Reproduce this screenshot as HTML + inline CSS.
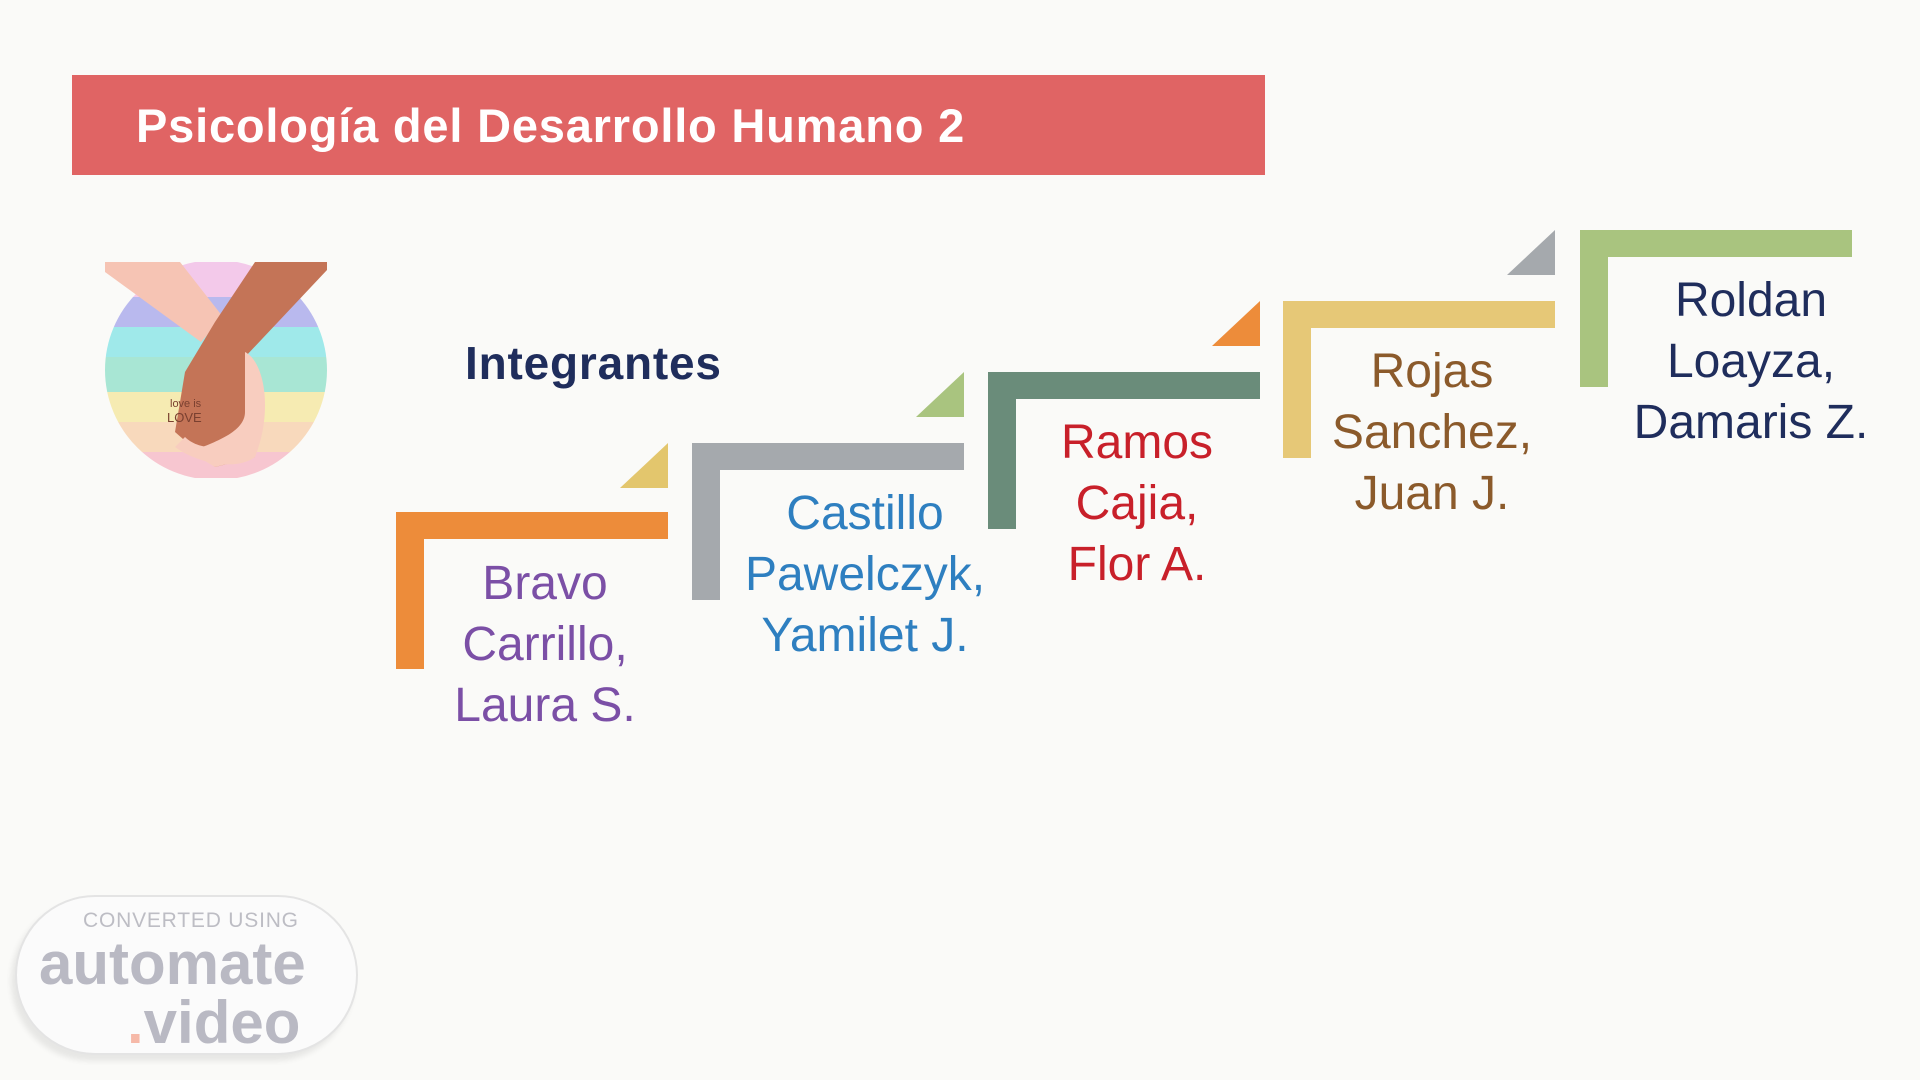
<!DOCTYPE html>
<html><head><meta charset="utf-8"><style>
*{margin:0;padding:0;box-sizing:border-box}
body{width:1920px;height:1080px;background:#fafaf8;position:relative;overflow:hidden;font-family:"Liberation Sans",sans-serif}
.title{position:absolute;left:72px;top:75px;width:1193px;height:100px;background:#e06464}
.title span{position:absolute;left:64px;top:23px;color:#fff;font-weight:bold;font-size:47px;letter-spacing:0.8px}
.integ{position:absolute;left:465px;top:336px;color:#1f2d5c;font-weight:bold;font-size:46px;letter-spacing:0.8px}
.br{position:absolute;width:272px;height:157px}
.br .h{position:absolute;left:0;top:0;width:272px;height:27px}
.br .v{position:absolute;left:0;top:0;width:28px;height:157px}
.tri{position:absolute;width:0;height:0;border-left:48px solid transparent;border-bottom:45px solid}
.name{position:absolute;width:360px;text-align:center;font-size:48px;line-height:61px;letter-spacing:0px}
.wm{position:absolute;left:15px;top:895px;width:343px;height:160px;border:2px solid #e4e4e4;border-radius:80px;background:#fbfbfb;box-shadow:-4px 6px 6px rgba(0,0,0,0.08)}
</style></head><body>
<div class="title"><span>Psicología del Desarrollo Humano 2</span></div>

<svg style="position:absolute;left:105px;top:262px" width="222" height="216" viewBox="0 0 222 216">
<defs><clipPath id="c"><ellipse cx="111" cy="108" rx="111" ry="110"/></clipPath></defs>
<g clip-path="url(#c)">
<rect x="0" y="0" width="222" height="35" fill="#f3c9ea"/>
<rect x="0" y="35" width="222" height="30" fill="#b9b9ee"/>
<rect x="0" y="65" width="222" height="30" fill="#9fe9ea"/>
<rect x="0" y="95" width="222" height="35" fill="#a8e6d4"/>
<rect x="0" y="130" width="222" height="30" fill="#f6ebb2"/>
<rect x="0" y="160" width="222" height="30" fill="#f8d9bc"/>
<rect x="0" y="190" width="222" height="30" fill="#f7c6d0"/>
</g>
<polygon points="0,0 75,0 118,55 96,80 0,10" fill="#f6c4b4"/>
<polygon points="150,0 222,0 222,8 140,95 150,195 110,205 70,170 80,110 110,60" fill="#c47457"/>
<path d="M140,90 C160,100 168,150 150,195 L110,205 L85,190 C110,180 140,170 140,150 Z" fill="#f8cdbf"/>
<path d="M70,185 C90,200 130,210 150,195 L140,180 C110,190 90,185 80,175 Z" fill="#f8cdbf"/>
<text x="65" y="145" font-size="11" fill="#7a4030" font-family="Liberation Sans">love is</text>
<text x="62" y="160" font-size="13" fill="#7a4030" font-family="Liberation Sans">LOVE</text>
</svg>

<div class="integ">Integrantes</div>

<div class="tri" style="left:620px;top:443px;border-bottom-color:#e3c66d"></div>
<div class="br" style="left:396px;top:512px"><div class="h" style="background:#ed8c3a"></div><div class="v" style="background:#ed8c3a"></div></div>
<div class="name" style="left:365px;top:553px;color:#7b4fa6">Bravo<br>Carrillo,<br>Laura S.</div>

<div class="tri" style="left:916px;top:372px;border-bottom-color:#a9c47f"></div>
<div class="br" style="left:692px;top:443px"><div class="h" style="background:#a5a9ad"></div><div class="v" style="background:#a5a9ad"></div></div>
<div class="name" style="left:685px;top:483px;color:#2e7fc0">Castillo<br>Pawelczyk,<br>Yamilet J.</div>

<div class="tri" style="left:1212px;top:301px;border-bottom-color:#ed8c3a"></div>
<div class="br" style="left:988px;top:372px"><div class="h" style="background:#6a8c7a"></div><div class="v" style="background:#6a8c7a"></div></div>
<div class="name" style="left:957px;top:412px;color:#c8202a">Ramos<br>Cajia,<br>Flor A.</div>

<div class="tri" style="left:1507px;top:230px;border-bottom-color:#a5a9ad"></div>
<div class="br" style="left:1283px;top:301px"><div class="h" style="background:#e6c877"></div><div class="v" style="background:#e6c877"></div></div>
<div class="name" style="left:1252px;top:341px;color:#8b5a2b">Rojas<br>Sanchez,<br>Juan J.</div>

<div class="br" style="left:1580px;top:230px"><div class="h" style="background:#a9c47f"></div><div class="v" style="background:#a9c47f"></div></div>
<div class="name" style="left:1571px;top:270px;color:#1f2d5c">Roldan<br>Loayza,<br>Damaris Z.</div>

<div class="wm">
<div style="position:absolute;left:66px;top:12px;font-size:21px;color:#bdbdc4;letter-spacing:0.8px">CONVERTED USING</div>
<div style="position:absolute;left:22px;top:32px;font-size:60px;font-weight:bold;color:#b9b9c3;letter-spacing:0px">automate</div>
<div style="position:absolute;left:110px;top:91px;font-size:60px;font-weight:bold;color:#b9b9c3;letter-spacing:0px"><span style="color:#f6b9a8">.</span>video</div>
</div>
</body></html>
